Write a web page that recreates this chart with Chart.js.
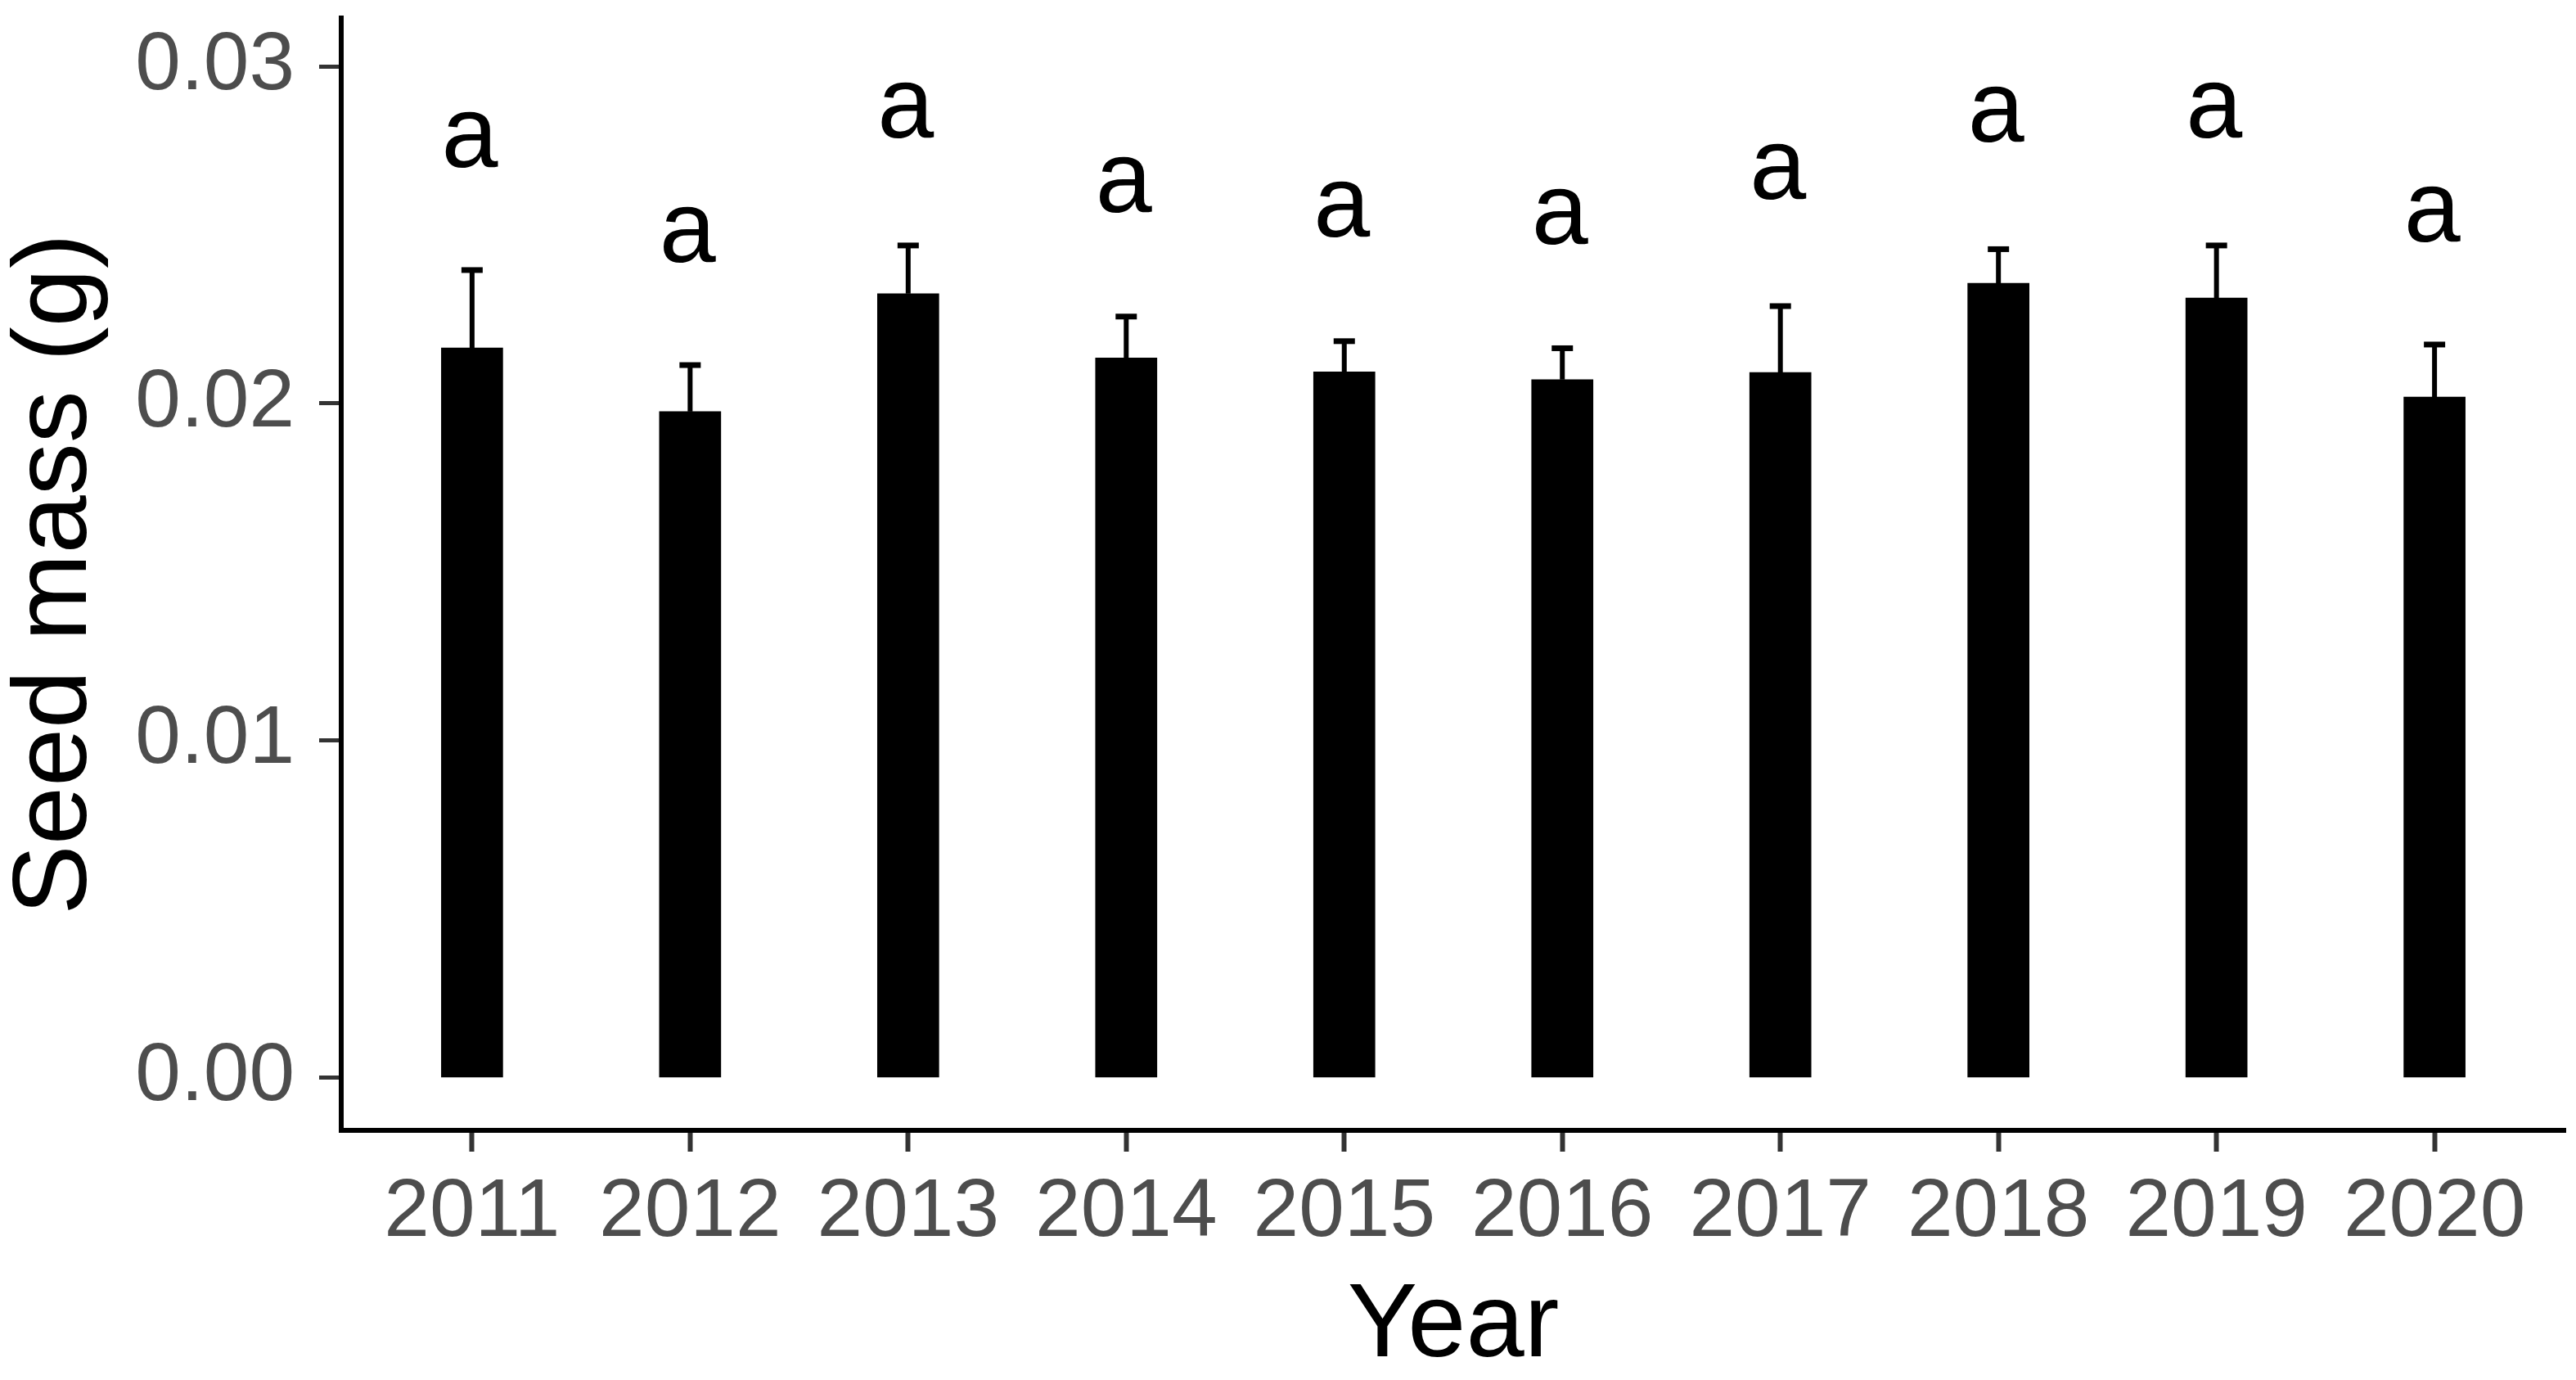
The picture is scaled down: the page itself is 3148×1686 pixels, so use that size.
<!DOCTYPE html>
<html>
<head>
<meta charset="utf-8">
<script src="https://cdn.jsdelivr.net/npm/chart.js@4.4.1/dist/chart.umd.min.js"></script>
<style>
  html, body { margin: 0; padding: 0; background: #fff; }
  #chart { display: block; }
</style>
</head>
<body>
<canvas id="chart" width="3148" height="1686"></canvas>
<script>
// Data
const years = ['2011', '2012', '2013', '2014', '2015', '2016', '2017', '2018', '2019', '2020'];
const seedMass = [0.02165, 0.01976, 0.02326, 0.02135, 0.02094, 0.02071, 0.02092, 0.02357, 0.02313, 0.02019];
const seedMassUpper = [0.02396, 0.02114, 0.02469, 0.02258, 0.02185, 0.02164, 0.02289, 0.02458, 0.02469, 0.02175];
const groupLetters = ['a', 'a', 'a', 'a', 'a', 'a', 'a', 'a', 'a', 'a'];
const letterY = [0.02703, 0.02421, 0.02790, 0.02569, 0.02495, 0.02473, 0.02608, 0.02777, 0.02790, 0.02482];
const yTicks = [0, 0.01, 0.02, 0.03];

const FONT = '"Liberation Sans", Arial, sans-serif';

// upper error bars + significance letters
const errorBarPlugin = {
  id: 'errorBars',
  afterDatasetsDraw(chart) {
    const { ctx, scales: { x, y } } = chart;
    ctx.save();
    ctx.strokeStyle = '#000';
    ctx.fillStyle = '#000';
    seedMass.forEach((v, i) => {
      const px = x.getPixelForValue(i + 1);
      const y0 = y.getPixelForValue(v);
      const y1 = y.getPixelForValue(seedMassUpper[i]);
      ctx.lineWidth = 6;
      ctx.beginPath();
      ctx.moveTo(px, y0);
      ctx.lineTo(px, y1);
      ctx.stroke();
      ctx.lineWidth = 7;
      ctx.beginPath();
      ctx.moveTo(px - 13, y1);
      ctx.lineTo(px + 13, y1);
      ctx.stroke();
    });
    ctx.font = '124px ' + FONT;
    ctx.textAlign = 'center';
    ctx.textBaseline = 'alphabetic';
    groupLetters.forEach((t, i) => {
      ctx.fillText(t, x.getPixelForValue(i + 1) - 3, y.getPixelForValue(letterY[i]));
    });
    ctx.restore();
  }
};

const ctx = document.getElementById('chart').getContext('2d');
new Chart(ctx, {
  type: 'bar',
  data: {
    datasets: [{
      data: seedMass.map((v, i) => ({ x: i + 1, y: v })),
      backgroundColor: '#000',
      borderWidth: 0,
      barThickness: 75
    }]
  },
  options: {
    responsive: false,
    animation: false,
    layout: { padding: { top: 22, right: 13, left: 0, bottom: 0 } },
    plugins: {
      legend: { display: false },
      tooltip: { enabled: false }
    },
    scales: {
      x: {
        type: 'linear',
        min: 0.4,
        max: 10.6,
        offset: false,
        afterBuildTicks: (s) => { s.ticks = years.map((_, i) => ({ value: i + 1 })); },
        afterFit: (s) => {
          s.height = 305;
          s.paddingLeft = 0;
          s.paddingRight = 0;
        },
        ticks: {
          callback: (v) => years[v - 1],
          font: { family: FONT, size: 100 },
          color: '#4D4D4D',
          padding: 15,
          maxRotation: 0,
          autoSkip: false
        },
        grid: {
          offset: false,
          drawOnChartArea: false,
          drawTicks: true,
          tickLength: 26,
          tickWidth: 6,
          tickColor: '#333'
        },
        border: { display: true, color: '#000', width: 6 },
        title: {
          display: true,
          text: 'Year',
          color: '#000',
          font: { family: FONT, size: 128, lineHeight: 1 },
          padding: { top: 0, bottom: 0 }
        }
      },
      y: {
        min: -0.00157,
        max: 0.03144,
        afterBuildTicks: (s) => { s.ticks = yTicks.map((v) => ({ value: v })); },
        afterFit: (s) => {
          s.width = 417;
          s.paddingTop = 0;
          s.paddingBottom = 0;
        },
        ticks: {
          callback: (v) => v.toFixed(2),
          font: { family: FONT, size: 100 },
          color: '#4D4D4D',
          padding: 30
        },
        grid: {
          drawOnChartArea: false,
          drawTicks: true,
          tickLength: 27,
          tickWidth: 5,
          tickColor: '#333'
        },
        border: { display: true, color: '#000', width: 6 },
        title: {
          display: true,
          text: 'Seed mass (g)',
          color: '#000',
          font: { family: FONT, size: 128, lineHeight: 1 },
          padding: { top: 6, bottom: 0 }
        }
      }
    }
  },
  plugins: [errorBarPlugin]
});
</script>
</body>
</html>
